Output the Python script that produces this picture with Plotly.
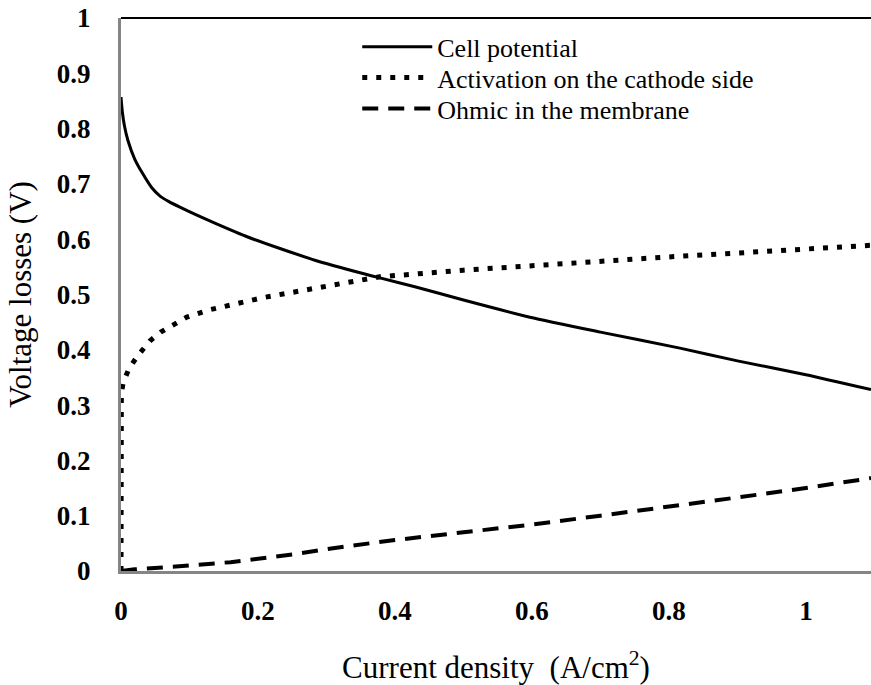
import plotly.graph_objects as go

# Polarisation data of the fuel cell
cell_j = [0, 0.002, 0.005, 0.010, 0.020, 0.031, 0.045, 0.057, 0.070, 0.086, 0.110, 0.137, 0.185,
          0.283, 0.356, 0.378, 0.429, 0.50, 0.597, 0.70, 0.816, 0.90, 1.0, 1.095]
cell_v = [0.857, 0.83, 0.805, 0.779, 0.745, 0.720, 0.693, 0.678, 0.668, 0.658, 0.644, 0.629, 0.604,
          0.562, 0.537, 0.530, 0.514, 0.49, 0.459, 0.432, 0.403, 0.38, 0.355, 0.328]

act_j = [0, 0.0005, 0.003, 0.012, 0.025, 0.042, 0.058, 0.076, 0.096, 0.128, 0.155,
         0.19, 0.21, 0.35, 0.378, 0.50, 0.597, 0.70, 0.80, 0.90, 1.0, 1.095]
act_v = [0.0, 0.32, 0.34, 0.367, 0.39, 0.416, 0.432, 0.445, 0.459, 0.472, 0.479,
         0.49, 0.495, 0.526, 0.532, 0.544, 0.552, 0.561, 0.568, 0.575, 0.582, 0.589]

ohm_j = [0, 0.02, 0.08, 0.16, 0.25, 0.32, 0.40, 0.50, 0.60, 0.70, 0.80, 0.90, 1.0, 1.095]
ohm_v = [0, 0.003, 0.008, 0.016, 0.03, 0.043, 0.056, 0.07, 0.084, 0.10, 0.116, 0.133, 0.15, 0.168]

x_ticks = [0, 0.2, 0.4, 0.6, 0.8, 1]
x_labels = ["0", "0.2", "0.4", "0.6", "0.8", "1"]
y_ticks = [0, 0.1, 0.2, 0.3, 0.4, 0.5, 0.6, 0.7, 0.8, 0.9, 1]
y_labels = ["0", "0.1", "0.2", "0.3", "0.4", "0.5", "0.6", "0.7", "0.8", "0.9", "1"]

SERIF = "Liberation Serif"
tick_font = dict(size=27, family=SERIF, color="black", weight="bold")
title_font = dict(size=31, family=SERIF, color="black")
legend_font = dict(size=26, family=SERIF, color="black")

fig = go.Figure()
fig.add_trace(go.Scatter(x=cell_j, y=cell_v, mode="lines", name="Cell potential", legend="legend",
                         line=dict(color="black", width=3, shape="spline", smoothing=0.6)))
fig.add_trace(go.Scatter(x=act_j, y=act_v, mode="lines", name="Activation on the cathode side",
                         legend="legend2", line=dict(color="black", width=5, dash="5px,9px")))
fig.add_trace(go.Scatter(x=ohm_j, y=ohm_v, mode="lines", name="Ohmic in the membrane",
                         legend="legend3", line=dict(color="black", width=4, dash="16px,10px")))


def legend_box(ypos):
    # one single-entry legend per series so the rows can be spaced freely
    return dict(x=0.315, y=ypos, xanchor="left", yanchor="middle",
                bgcolor="rgba(0,0,0,0)", font=legend_font, itemwidth=70)


fig.update_layout(
    width=871, height=685,
    margin=dict(l=121, r=0, t=18, b=114),
    paper_bgcolor="white", plot_bgcolor="white",
    font=dict(family=SERIF, color="black", size=20),
    showlegend=True,
    legend=legend_box(0.948),
    legend2=legend_box(0.892),
    legend3=legend_box(0.836),
    xaxis=dict(range=[0, 1.095], tickvals=x_ticks, ticktext=x_labels,
               showgrid=False, zeroline=False, showline=True, linecolor="#858585", linewidth=3,
               ticks="", ticklabelstandoff=14, tickfont=tick_font,
               title=dict(text="Current density  (A/cm<sup>2</sup>)", font=title_font, standoff=31)),
    yaxis=dict(range=[0, 1], tickvals=y_ticks, ticktext=y_labels,
               showgrid=False, zeroline=False, showline=True, linecolor="#858585", linewidth=3,
               ticks="", ticklabelstandoff=22, tickfont=tick_font,
               title=dict(text="Voltage losses (V)", font=title_font, standoff=16)),
    shapes=[dict(type="line", xref="paper", yref="paper", x0=0, x1=1, y0=1, y1=1,
                 line=dict(color="black", width=2))],
)

fig.write_html("out.html")
